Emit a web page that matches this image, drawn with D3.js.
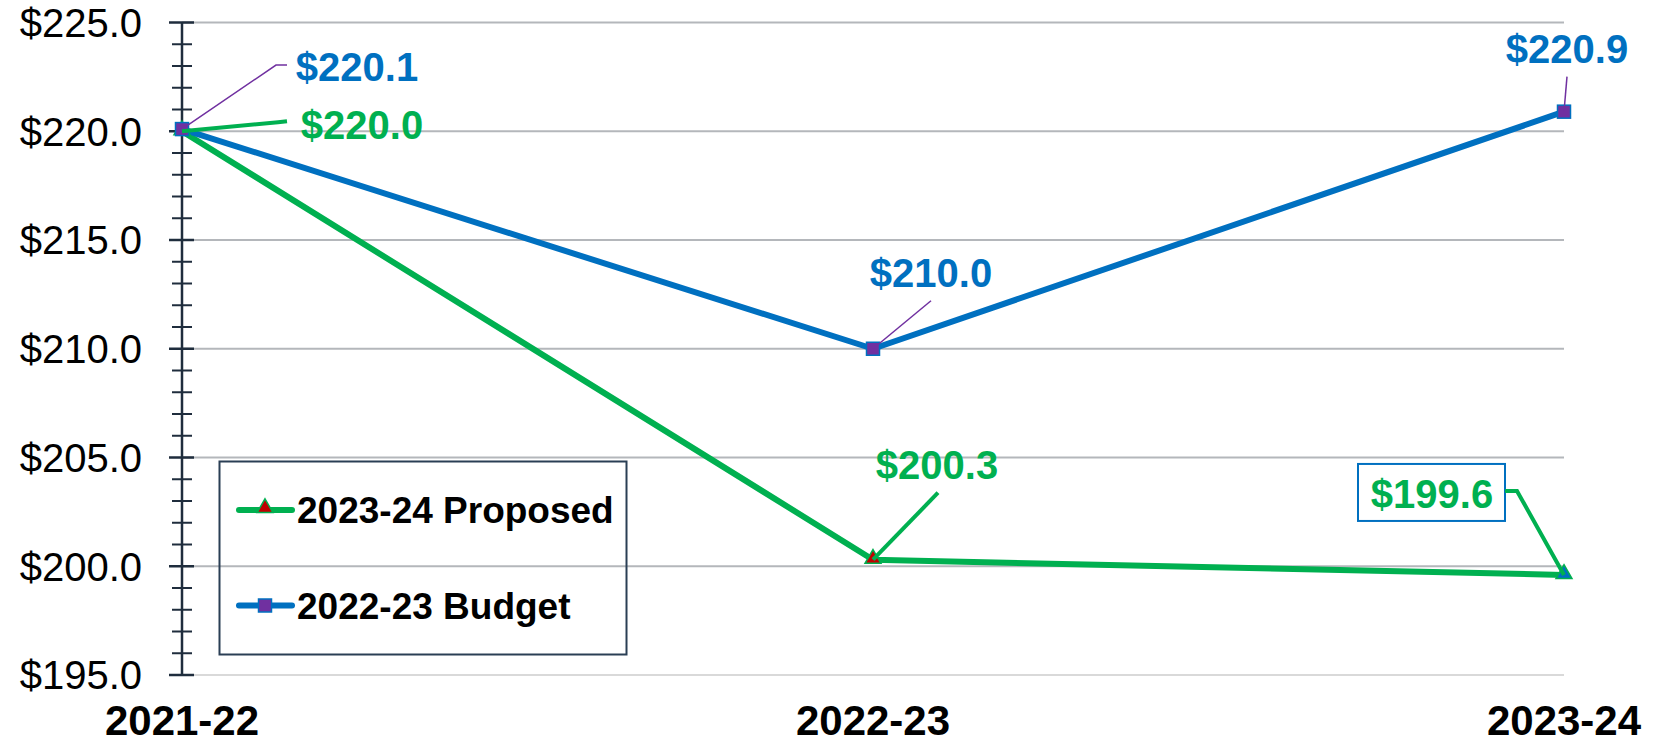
<!DOCTYPE html>
<html><head><meta charset="utf-8">
<script src="https://cdn.jsdelivr.net/npm/d3@7"></script>
<style>
html,body{margin:0;padding:0;background:#fff;}
svg{display:block;font-family:"Liberation Sans",Arial,sans-serif;}
</style></head>
<body>
<svg id="chart" width="1657" height="744"></svg>
<script>
const categories = ["2021-22", "2022-23", "2023-24"];
const budget2223 = [220.1, 210.0, 220.9];
const proposed2324 = [220.0, 200.3, 199.6];
const yTicks = [195, 200, 205, 210, 215, 220, 225];
const seriesNames = ["2023-24 Proposed", "2022-23 Budget"];

const BLUE = "#0070C0", GREEN = "#00B050", PURPLE = "#7030A0", RED = "#C00000";
const svg = d3.select("#chart");
const x = d3.scalePoint().domain(categories).range([182, 1564]);
const y = d3.scaleLinear().domain([195, 225]).range([675, 22.5]);
const fmt = v => "$" + v.toFixed(1);

// gridlines
svg.append("g").selectAll("line").data(yTicks).join("line")
  .attr("x1", 182).attr("x2", 1564)
  .attr("y1", d => y(d)).attr("y2", d => y(d))
  .attr("stroke", d => d === 195 ? "#d9d9d9" : "#b4b7bb").attr("stroke-width", 2);

// y axis
const minor = d3.range(195, 225.01, 1).filter(v => v % 5 !== 0);
const gAxis = svg.append("g");
gAxis.selectAll("line.minor").data(minor).join("line").attr("class","minor")
  .attr("x1", 172).attr("x2", 192).attr("y1", d => y(d)).attr("y2", d => y(d))
  .attr("stroke", "#1f2d3d").attr("stroke-width", 2);
gAxis.selectAll("line.major").data(yTicks).join("line").attr("class","major")
  .attr("x1", 169).attr("x2", 194).attr("y1", d => y(d)).attr("y2", d => y(d))
  .attr("stroke", "#1f2d3d").attr("stroke-width", 2.5);
gAxis.append("line").attr("x1", 182).attr("x2", 182).attr("y1", y(225)).attr("y2", y(195))
  .attr("stroke", "#1f2d3d").attr("stroke-width", 2.5);
gAxis.selectAll("text").data(yTicks).join("text")
  .attr("x", 142).attr("y", d => y(d)).attr("dy", "0.36em")
  .attr("text-anchor", "end").attr("font-size", 40).attr("fill", "#000")
  .text(fmt);

// x labels
svg.append("g").selectAll("text").data(categories).join("text")
  .attr("x", d => x(d)).attr("y", 735).attr("text-anchor", "middle")
  .attr("font-size", 42).attr("font-weight", "bold").attr("fill", "#000").text(d => d);

// lines
const line = vals => d3.line().x((d, i) => x(categories[i])).y(d => y(d))(vals);
svg.append("path").attr("d", line(proposed2324)).attr("fill", "none")
  .attr("stroke", GREEN).attr("stroke-width", 6).attr("stroke-linejoin", "round");
svg.append("path").attr("d", line(budget2223)).attr("fill", "none")
  .attr("stroke", BLUE).attr("stroke-width", 6).attr("stroke-linejoin", "round");

// markers
const tri = d3.symbol().type(d3.symbolTriangle).size(110);
svg.append("g").selectAll("path").data(proposed2324).join("path")
  .attr("d", tri).attr("transform", (d, i) => `translate(${x(categories[i])},${y(d) - 1})`)
  .attr("fill", (d, i) => i === 2 ? BLUE : RED).attr("stroke", GREEN).attr("stroke-width", 1.5);
svg.append("g").selectAll("rect").data(budget2223).join("rect")
  .attr("x", (d, i) => x(categories[i]) - 6.5).attr("y", d => y(d) - 6.5)
  .attr("width", 13).attr("height", 13)
  .attr("fill", PURPLE).attr("stroke", BLUE).attr("stroke-width", 1.5);

// data labels: layout offsets relative to each point
const budgetLayout = [
  {lead: [[94, -64], [105, -64]], tx: 175, ty: -62},
  {lead: [[58, -48]], tx: 58, ty: -76},
  {lead: [[3, -35]], tx: 3, ty: -63}
];
const propLayout = [
  {lead: [[96, -9], [105, -10]], tx: 180, ty: -7, w: 4},
  {lead: [[65, -67]], tx: 64, ty: -95, w: 4},
  {lead: [[-47, -84], [-59, -84]], tx: -132, ty: -81, w: 4, box: true}
];
function drawLabels(vals, layout, color, leadColor, leadW) {
  const g = svg.append("g");
  vals.forEach((v, i) => {
    const px = x(categories[i]), py = y(v), L = layout[i];
    const pts = [[px, py]].concat(L.lead.map(p => [px + p[0], py + p[1]]));
    g.append("path").attr("d", d3.line()(pts)).attr("fill", "none")
      .attr("stroke", leadColor).attr("stroke-width", L.w || leadW);
    g.append("text").attr("x", px + L.tx).attr("y", py + L.ty).attr("dy", "0.36em")
      .attr("text-anchor", "middle").attr("font-size", 40).attr("font-weight", "bold")
      .attr("fill", color).text(fmt(v));
    if (L.box) {
      g.insert("rect", "text").attr("x", px - 206).attr("y", py - 111)
        .attr("width", 147).attr("height", 57)
        .attr("fill", "#fff").attr("stroke", BLUE).attr("stroke-width", 2);
    }
  });
}
drawLabels(budget2223, budgetLayout, BLUE, PURPLE, 1.5);
drawLabels(proposed2324, propLayout, GREEN, GREEN, 4);

// legend
const lg = svg.append("g");
lg.append("rect").attr("x", 219.5).attr("y", 461.5).attr("width", 407).attr("height", 193)
  .attr("fill", "none").attr("stroke", "#2a3f55").attr("stroke-width", 2);
const legendColors = [GREEN, BLUE];
seriesNames.forEach((name, i) => {
  const ly = i === 0 ? 510 : 605.5;
  lg.append("line").attr("x1", 239).attr("x2", 292).attr("y1", ly).attr("y2", ly)
    .attr("stroke", legendColors[i]).attr("stroke-width", 6).attr("stroke-linecap", "round");
  if (i === 0) {
    lg.append("path").attr("d", tri).attr("transform", `translate(265,${ly - 2})`)
      .attr("fill", RED).attr("stroke", GREEN).attr("stroke-width", 1.5);
  } else {
    lg.append("rect").attr("x", 258.5).attr("y", ly - 6.5).attr("width", 13).attr("height", 13)
      .attr("fill", PURPLE).attr("stroke", BLUE).attr("stroke-width", 1.5);
  }
  lg.append("text").attr("x", 297).attr("y", ly).attr("dy", "0.36em")
    .attr("font-size", 37).attr("font-weight", "bold").attr("fill", "#000").text(name);
});
</script>
</body></html>
